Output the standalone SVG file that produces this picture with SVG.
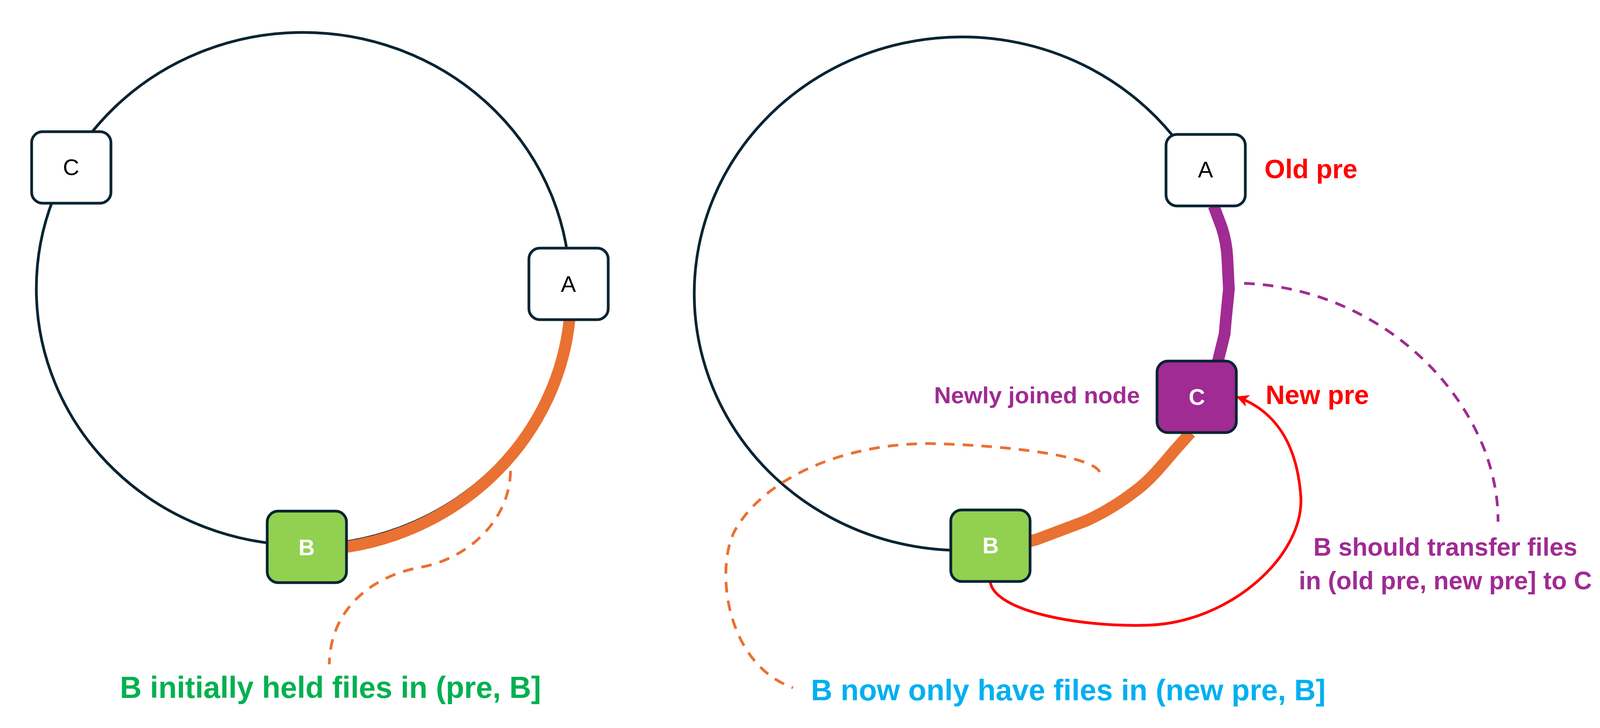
<svg xmlns="http://www.w3.org/2000/svg" width="4339" height="1863" viewBox="0 0 4339 1863">
<defs>
<style>
.ring{fill:none;stroke:#082433;stroke-width:7}
.thick{fill:none;stroke-width:30;stroke-linejoin:round}
.dash{fill:none;stroke-width:7;stroke-dasharray:27 21}
.box{stroke:#082433;stroke-width:7}
.lbl{font-family:"Liberation Sans",Arial,sans-serif;font-size:58px;text-anchor:middle}
.cap{font-family:"Liberation Sans",Arial,sans-serif;font-weight:bold}
</style>
<marker id="arr" viewBox="0 0 10 10" refX="9" refY="5" markerWidth="4.5" markerHeight="4.5" orient="auto" markerUnits="strokeWidth">
<path d="M0,0 L10,5 L0,10 L2.5,5 z" fill="#ff0000"/>
</marker>
</defs>
<rect width="4339" height="1863" fill="#ffffff"/>
<g id="connectors">
<ellipse class="ring" cx="776" cy="739" rx="683" ry="656"/>
<path class="thick" stroke="#e97132" d="M1458 818 A683 656 0 0 1 886 1400"/>
<path class="dash" stroke="#e97132" d="M1307 1205 C1305 1330 1200 1430 1075 1452 C950 1475 845 1560 843 1700"/>
<path class="ring" d="M3002 347 A685 657 0 1 0 2434 1408"/>
<path class="thick" stroke="#a02b93" d="M3107 527 L3128 583 Q3140 620 3142 660 L3146 740 L3138 820 L3135 855 L3118 924"/>
<path class="thick" stroke="#e97132" d="M3048 1107 L3007 1153 C2975 1190 2950 1222 2915 1250 C2870 1285 2830 1310 2780 1333 L2655 1380 L2630 1387"/>
<path class="dash" stroke="#e97132" d="M2815 1208 C2800 1170 2600 1140 2380 1135 C2150 1135 1950 1230 1880 1360 C1830 1460 1860 1700 2030 1760"/>
<path class="dash" stroke="#a02b93" d="M3185 725 C3450 735 3700 900 3800 1150 C3830 1230 3835 1290 3835 1335"/>
<path fill="none" stroke="#ff0000" stroke-width="7" marker-end="url(#arr)" d="M2535 1487 C2540 1560 2750 1605 2935 1600 C3150 1595 3340 1420 3330 1270 C3320 1130 3260 1050 3168 1016"/>
</g>
<g id="left-C">
<rect class="box" x="81" y="337" width="203" height="183" rx="28" fill="#ffffff"/>
<text class="lbl" x="182" y="448" fill="#000000">C</text>
</g>
<g id="left-A">
<rect class="box" x="1354" y="635" width="203" height="183" rx="28" fill="#ffffff"/>
<text class="lbl" x="1455" y="747" fill="#000000">A</text>
</g>
<g id="left-B">
<rect class="box" x="684" y="1308" width="203" height="183" rx="28" fill="#92d050"/>
<text class="lbl" x="785" y="1421" fill="#ffffff" font-weight="bold">B</text>
</g>
<g id="right-A">
<rect class="box" x="2985" y="344" width="203" height="183" rx="28" fill="#ffffff"/>
<text class="lbl" x="3086" y="454" fill="#000000">A</text>
</g>
<g id="right-C">
<rect class="box" x="2962" y="924" width="203" height="183" rx="28" fill="#a02b93"/>
<text class="lbl" x="3064" y="1036" fill="#ffffff" font-weight="bold">C</text>
</g>
<g id="right-B">
<rect class="box" x="2434" y="1305" width="203" height="183" rx="28" fill="#92d050"/>
<text class="lbl" x="2536" y="1416" fill="#ffffff" font-weight="bold">B</text>
</g>
<g id="labels">
<text class="cap" x="307" y="1786" font-size="77" fill="#00b050">B initially held files in (pre, B]</text>
<text class="cap" x="2076" y="1792" font-size="76" fill="#00b0f0">B now only have files in (new pre, B]</text>
<text class="cap" x="3237" y="456" font-size="68" fill="#ff0000">Old pre</text>
<text class="cap" x="3240" y="1034" font-size="68" fill="#ff0000">New pre</text>
<text class="cap" x="2918" y="1032" font-size="60" fill="#a02b93" text-anchor="end">Newly joined node</text>
<text class="cap" x="3700" y="1422" font-size="64" fill="#a02b93" text-anchor="middle">B should transfer files</text>
<text class="cap" x="3700" y="1508" font-size="64" fill="#a02b93" text-anchor="middle">in (old pre, new pre] to C</text>
</g>
</svg>
